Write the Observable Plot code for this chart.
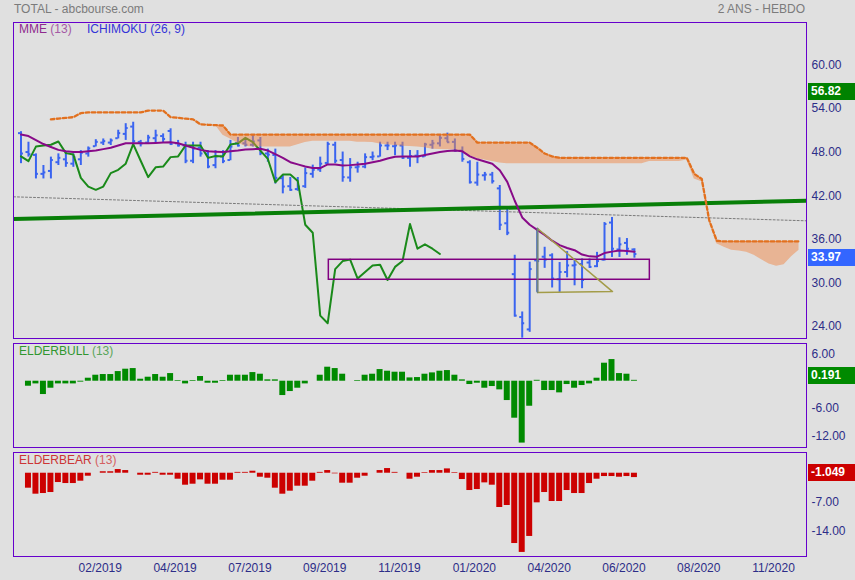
<!DOCTYPE html>
<html><head><meta charset="utf-8">
<script src="https://cdn.jsdelivr.net/npm/d3@7"></script>
<script src="https://cdn.jsdelivr.net/npm/@observablehq/plot@0.6"></script>
<style>
html,body{margin:0;padding:0;background:#e0e0e0;}
#wrap{position:relative;width:855px;height:580px;background:#e0e0e0;font-family:Arial,"Liberation Sans",sans-serif;font-size:12px;overflow:hidden;}
.abs{position:absolute;white-space:nowrap;line-height:14px;}
</style></head><body><div id="wrap"></div>
<script>
// ---------- DATA (weekly bars, index 0..82) ----------
const opens = [50.6,48.0,47.6,45.0,45.4,46.6,47.0,46.4,47.0,47.8,48.8,49.3,49.3,49.9,50.5,51.5,49.4,49.3,49.9,50.2,50.9,49.2,48.9,46.8,48.6,47.8,
  46.2,47.4,46.9,49.2,49.2,49.0,49.6,47.8,47.6,44.4,43.3,42.9,43.3,45.0,45.6,46.5,49.0,46.9,44.5,45.9,46.0,47.3,47.4,48.9,48.8,48.9,
  47.2,47.5,47.4,49.0,49.2,49.9,49.4,48.2,46.6,43.8,44.8,44.9,43.0,38.2,31.2,25.3,23.6,33.1,33.6,33.8,30.5,31.5,32.4,32.6,32.8,32.3,33.2,38.3,34.6,35.5,34.6];
const highs = [50.8,49.35,47.75,46.15,47.3,47.75,48.0,47.75,48.2,48.7,49.7,49.8,49.8,51.0,51.9,52.1,49.6,50.3,51.0,50.5,51.2,49.6,49.35,49.35,49.35,48.2,
  48.2,48.2,49.6,50.0,49.6,50.3,50.0,48.4,48.4,44.8,44.5,44.5,45.8,46.2,47.3,49.35,49.35,48.0,47.1,46.6,47.75,48.0,49.35,49.35,49.35,49.35,
  48.2,48.2,49.2,49.6,50.3,50.6,49.8,48.7,46.8,46.6,45.2,45.2,43.4,40.2,33.8,26.0,32.85,37.5,34.9,34.0,32.8,34.3,33.3,33.3,33.3,34.2,38.3,39.0,36.2,36.1,34.7];
const lows = [46.4,47.3,44.3,44.3,44.3,46.15,45.9,45.9,46.15,47.3,48.7,48.9,48.9,49.8,49.6,49.2,48.7,49.2,49.2,49.2,48.9,48.7,46.4,46.4,47.3,45.7,
  45.7,46.4,46.8,48.7,48.7,48.7,47.5,46.6,43.6,42.25,42.6,42.6,43.0,44.4,45.2,46.3,46.4,43.85,43.85,45.1,45.7,46.8,47.3,48.2,47.5,47.0,
  45.9,46.4,47.3,48.4,48.7,49.3,48.0,46.6,43.6,43.3,44.0,43.6,37.2,36.5,25.3,22.4,23.2,28.7,32.0,29.3,28.7,30.7,29.6,29.2,32.0,32.1,33.0,33.5,33.5,33.8,33.4];
const closes = [47.8,47.7,45.0,45.2,46.9,47.2,46.5,47.3,47.9,48.5,49.4,49.5,49.6,50.6,51.3,49.5,49.2,50.0,50.3,49.8,49.1,48.9,46.8,48.5,47.8,46.0,
  47.4,46.75,48.75,48.9,49.0,49.45,47.85,47.65,44.45,43.25,42.8,43.25,45.1,45.55,46.4,49.1,46.8,44.55,45.9,46.0,47.3,47.4,48.9,48.9,48.9,47.2,
  47.45,47.4,49.05,49.2,49.95,49.35,48.2,47.05,43.85,44.9,44.9,44.0,38.0,36.9,25.5,24.45,31.9,33.0,33.2,30.6,31.5,32.4,32.5,30.4,32.2,33.0,38.1,34.7,35.3,34.7,33.97];
// MME (13)
const mme = [50.4,50.2,49.65,49.1,48.7,48.3,48.1,48.0,48.0,48.1,48.2,48.4,48.6,48.9,49.2,49.2,49.2,49.2,49.25,49.3,
  49.35,49.2,48.9,48.6,48.3,48.1,48.05,48.0,48.1,48.2,48.35,48.4,48.45,48.2,47.7,47.2,46.6,46.3,46.0,45.8,
  45.8,46.3,46.3,46.15,46.2,46.3,46.4,46.6,46.8,47.1,47.35,47.4,47.4,47.4,47.6,47.8,48.0,48.15,48.2,48.1,
  47.4,47.0,46.7,46.4,45.5,43.9,41.3,39.0,38.0,37.3,36.6,35.8,35.2,34.8,34.5,33.9,33.65,33.6,34.1,34.3,34.45,34.4,34.3];
// Ichimoku cloud (projected 26 bars ahead): dotted span from bar 4, other span from bar 26, both to bar 104
const spanBStart = 4;
const spanB = [52.5,52.6,52.7,52.8,53.35,
  53.45,53.45,53.45,53.45,53.45,53.45,53.45,53.45,
  53.7,53.7,53.7,
  52.8,52.7,52.6,52.5,51.8,51.75,51.7,51.65,
  50.4,50.4,50.4,50.4,50.4,50.4,50.4,50.4,50.4,50.4,50.4,50.4,50.4,50.4,50.4,50.4,50.4,50.4,50.4,50.4,50.4,50.4,50.4,50.4,50.4,50.4,50.4,50.4,50.4,50.4,50.4,50.4,50.4,
  49.3,49.3,49.3,49.3,49.3,49.3,49.3,49.3,
  48.6,47.8,47.4,
  47.2,47.2,47.2,47.2,47.2,47.2,47.2,47.2,47.2,47.2,47.2,47.2,47.2,47.2,47.2,47.2,47.2,47.2,
  45.0,44.3,38.6,35.8,
  35.7,35.7,35.7,35.7,35.7,35.7,35.7,35.7,35.7,35.7,35.7];
const spanAStart = 26;
const spanA = [51.7,50.3,49.8,49.2,48.8,48.7,48.7,48.7,48.7,48.7,48.7,
  49.0,49.3,49.5,49.5,49.5,49.5,49.5,49.5,49.35,49.35,49.3,
  49.1,49.0,48.9,48.8,48.75,48.7,48.6,48.4,48.35,48.3,48.3,
  47.9,47.5,47.1,46.9,46.7,46.5,46.4,
  46.4,46.4,46.4,46.4,46.4,46.4,46.4,46.4,46.4,46.4,46.4,46.4,46.4,46.4,46.4,46.4,46.4,46.4,
  46.7,46.7,46.7,46.7,46.7,46.9,
  44.3,43.9,38.5,35.4,34.9,34.5,34.4,34.2,33.8,33.2,32.6,32.3,32.5,33.6,34.5];
const chikouShift = 26;
// drawn objects (bar index, price)
const trendGreen = [{i:-1, p:38.79},{i:105, p:41.29}];
const trendGray = [{i:-1, p:41.84},{i:105, p:38.54}];
const boxZone = {i1:41.15, i2:84.06, p1:30.43, p2:33.18};
const triangle = [{i:69.05,p:37.48},{i:69.05,p:28.68},{i:79.07,p:28.8},{i:69.05,p:37.48}];
const priceTicks = [24,30,36,42,48,54,60];
// ELDERBULL (13), ELDERBEAR (13), bars 1..82
const elderBull = [null,-1.1,-0.59,-2.93,-1.54,-0.59,-0.59,-0.59,-0.2,0.66,1.32,
  1.47,1.47,2.12,2.64,2.78,0.44,0.88,1.47,0.88,1.68,
  0.15,-0.59,0.15,1.03,-0.44,-0.44,0.15,1.32,1.32,1.32,
  1.9,1.54,0.3,0.3,-3.15,-2.27,-1.54,-0.59,0,1.32,
  3.08,2.78,1.54,0,0.15,1.32,1.54,2.56,2.2,1.98,
  1.98,0.73,0.8,1.54,1.83,2.2,2.34,1.32,0.3,-0.73,
  -0.44,-1.54,-1.17,-1.9,-4.25,-8.13,-13.6,-5.5,0.2,-2.05,
  -2.05,-2.56,-0.73,-1.54,-0.95,-0.59,0.66,3.96,4.76,1.68,
  1.54,0.191];
const elderBear = [null,-3.6,-5.04,-4.88,-4.64,-2.24,-2.48,-2.48,-1.92,-0.72,0,
  0.35,0.35,0.88,0.64,0,-0.48,-0.48,0.2,-0.48,-0.48,
  -1.44,-2.88,-2.64,-1.6,-2.64,-2.64,-1.68,-1.68,0.2,0.2,
  0.48,-0.96,-1.2,-3.6,-5.04,-4.32,-3.12,-3.12,-1.92,0.2,
  0.64,-0.15,-2.4,-2.4,-1.2,-0.72,0,0.64,1.12,0.2,
  0,-1.44,-0.96,0.15,0.64,0.64,1.04,0.15,-1.52,-4.16,
  -3.92,-2.32,-2.88,-8.24,-7.76,-16.9,-19.04,-15.2,-7.12,-4.64,
  -6.8,-6.8,-4.16,-4.88,-4.88,-2.48,-1.44,-0.8,-0.8,-0.96,
  -0.8,-1.049];
const bullTicks = [6,-6,-12];
const bearTicks = [-7,-14];
const xTickIdx = [10.6,20.6,30.6,40.6,50.6,60.6,70.6,80.6,90.6,100.6];
const xTickLabels = ["02/2019","04/2019","07/2019","09/2019","11/2019","01/2020","04/2020","06/2020","08/2020","11/2020"];
const lastValues = {price: 33.97, upper: 56.82, bull: 0.191, bear: -1.049};

// ---------- BUILD ----------
const bars = closes.map((c,i)=>({i, open:opens[i], high:highs[i], low:lows[i], close:c}));
const mmeData = mme.map((v,i)=>({i, v}));
const chikou = closes.map((c,i)=>({i:i-chikouShift, v:c})).filter(d=>d.i>=0);
const spanBData = spanB.map((v,k)=>({i:k+spanBStart, v}));
const cloud = spanA.map((a,k)=>({i:k+spanAStart, a, b:spanB[k+spanAStart-spanBStart]}));
const bull = elderBull.map((v,i)=>({i, v})).filter(d=>d.v!==null);
const bear = elderBear.map((v,i)=>({i, v})).filter(d=>d.v!==null);

const FONT = 'Arial, "Liberation Sans", sans-serif';
const AXC = "#2d2d88";
const FRAME = "#6600cc";
const XD = [-1, 105];
const wrap = document.getElementById("wrap");

function addDiv(html, css){const d=document.createElement("div");d.className="abs";d.innerHTML=html;Object.assign(d.style,css);wrap.appendChild(d);return d;}
function mount(el, top){el.style.position="absolute";el.style.left="0px";el.style.top=top+"px";el.style.background="transparent";wrap.appendChild(el);}
function yPix(chart, v, domain, range){const s=chart.scale&&chart.scale("y");if(s&&typeof s.apply==="function")return s.apply(v);return d3.scaleLinear(domain,range)(v);}
const style = {background:"transparent", fontFamily:FONT, fontSize:"12px", color:AXC, overflow:"visible"};

// Panel 1: price
const P1 = {top:16, h:326, mt:6, mb:4, dom:[22.35,65.82]};
const c1 = Plot.plot({
  width:855, height:P1.h, marginTop:P1.mt, marginBottom:P1.mb, marginLeft:13, marginRight:49,
  style,
  x:{domain:XD, axis:null},
  y:{domain:P1.dom, axis:null},
  marks:[
    Plot.ruleX(bars,{x:"i", y1:"low", y2:"high", stroke:"#3a64f0", strokeWidth:2, clip:true}),
    Plot.ruleY(bars,{y:"open", x1:d=>d.i-0.33, x2:"i", stroke:"#3a64f0", strokeWidth:2, clip:true}),
    Plot.ruleY(bars,{y:"close", x1:"i", x2:d=>d.i+0.33, stroke:"#3a64f0", strokeWidth:2, clip:true}),
    Plot.line(chikou,{x:"i", y:"v", stroke:"#1a8a1a", strokeWidth:2, clip:true}),
    Plot.line(trendGray,{x:"i", y:"p", stroke:"#7a7a7a", strokeWidth:1, strokeDasharray:"2,2", clip:true}),
    Plot.line(trendGreen,{x:"i", y:"p", stroke:"#087f08", strokeWidth:4, clip:true}),
    Plot.areaY(cloud,{x:"i", y1:"a", y2:"b", fill:"#f08848", fillOpacity:0.5, clip:true}),
    Plot.line(mmeData,{x:"i", y:"v", stroke:"#880a88", strokeWidth:2, clip:true}),
    Plot.line(spanBData,{x:"i", y:"v", stroke:"#e2701e", strokeWidth:2.3, strokeDasharray:"3.5,2.5", clip:true}),
    Plot.rect([boxZone],{x1:"i1", x2:"i2", y1:"p1", y2:"p2", fill:"none", stroke:"#800080", strokeWidth:1.5, clip:true}),
    Plot.line(triangle,{x:"i", y:"p", stroke:"#a39c48", strokeWidth:1.5, clip:true}),
    Plot.line(triangle.slice(0,2),{x:"i", y:"p", stroke:"#6f8580", strokeWidth:1.5, clip:true}),
    Plot.frame({stroke:FRAME, strokeWidth:1}),
    Plot.axisY(priceTicks,{anchor:"right", tickSize:0, tickPadding:5, tickFormat:d=>d.toFixed(2), label:null})
  ]
});
mount(c1, P1.top);

// Panel 2: ELDERBULL
const P2 = {top:340, h:109, mt:3, mb:2, dom:[-14.57,8.29]};
const c2 = Plot.plot({
  width:855, height:P2.h, marginTop:P2.mt, marginBottom:P2.mb, marginLeft:13, marginRight:49,
  style,
  x:{domain:XD, axis:null},
  y:{domain:P2.dom, axis:null},
  marks:[
    Plot.rectY(bull,{x1:d=>d.i-0.4, x2:d=>d.i+0.4, y1:0, y2:"v", fill:"#008a00", clip:true}),
    Plot.frame({stroke:FRAME, strokeWidth:1}),
    Plot.axisY(bullTicks,{anchor:"right", tickSize:0, tickPadding:5, tickFormat:d=>d.toFixed(2), label:null})
  ]
});
mount(c2, P2.top);

// Panel 3: ELDERBEAR + time axis
const P3 = {top:449, h:131, mt:3, mb:24, dom:[-20.02,4.98]};
const labelOf = new Map(xTickIdx.map((t,k)=>[t, xTickLabels[k]]));
const c3 = Plot.plot({
  width:855, height:P3.h, marginTop:P3.mt, marginBottom:P3.mb, marginLeft:13, marginRight:49,
  style,
  x:{domain:XD, axis:null},
  y:{domain:P3.dom, axis:null},
  marks:[
    Plot.rectY(bear,{x1:d=>d.i-0.4, x2:d=>d.i+0.4, y1:0, y2:"v", fill:"#cc0000", clip:true}),
    Plot.frame({stroke:FRAME, strokeWidth:1}),
    Plot.axisY(bearTicks,{anchor:"right", tickSize:0, tickPadding:5, tickFormat:d=>d.toFixed(2), label:null}),
    Plot.axisX(xTickIdx,{anchor:"bottom", tickSize:0, tickPadding:7, tickFormat:d=>labelOf.get(d), label:null})
  ]
});
mount(c3, P3.top);

// ---------- TEXT ----------
addDiv("TOTAL - abcbourse.com",{left:"14px", top:"2px", color:"#7b7b7b"});
addDiv("2 ANS - HEBDO",{right:"50px", top:"2px", color:"#7b7b7b"});
addDiv('<span style="color:#8e2a8e">MME</span> <span style="color:#a55aa5">(13)</span>',{left:"19px", top:"22px"});
addDiv('<span style="color:#3434d8">ICHIMOKU (26, 9)</span>',{left:"87px", top:"22px"});
addDiv('<span style="color:#2f962f">ELDERBULL</span> <span style="color:#5aa55a">(13)</span>',{left:"19px", top:"344px"});
addDiv('<span style="color:#cc3535">ELDERBEAR</span> <span style="color:#d46060">(13)</span>',{left:"19px", top:"453px"});

function valueBox(txt, y, bg){
  addDiv(txt,{left:"808px", top:(y-8.5)+"px", width:"47px", height:"17px", lineHeight:"17px", background:bg,
    color:"#ffffff", fontWeight:"bold", paddingLeft:"3px", boxSizing:"border-box"});
}
const r1=[P1.h-P1.mb,P1.mt], r2=[P2.h-P2.mb,P2.mt], r3=[P3.h-P3.mb,P3.mt];
valueBox(lastValues.upper.toFixed(2), P1.top + yPix(c1,lastValues.upper,P1.dom,r1) + 4.3, "#008200");
valueBox(lastValues.price.toFixed(2), P1.top + yPix(c1,lastValues.price,P1.dom,r1) + 4.2, "#3366ff");
valueBox(lastValues.bull.toFixed(3), P2.top + yPix(c2,lastValues.bull,P2.dom,r2) - 4, "#008a00");
valueBox(lastValues.bear.toFixed(3), P3.top + yPix(c3,lastValues.bear,P3.dom,r3) - 4.1, "#cc0000");
</script></body></html>
